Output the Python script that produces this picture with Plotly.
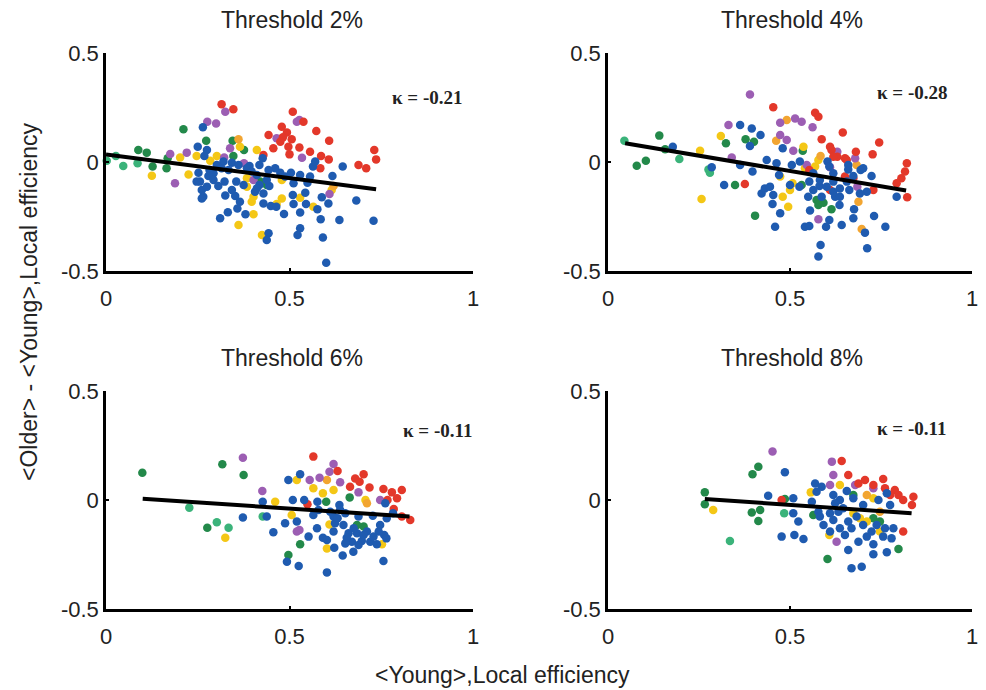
import plotly.graph_objects as go

# ---------------------------------------------------------------------------
# Data: (<Young> local efficiency, <Older> - <Young> local efficiency) per node,
# grouped by module colour, for four network-density thresholds.
# ---------------------------------------------------------------------------
THRESHOLDS = ["Threshold 2%", "Threshold 4%", "Threshold 6%", "Threshold 8%"]
KAPPAS = ["κ = -0.21", "κ = -0.28", "κ = -0.11", "κ = -0.11"]
KAPPA_X = [0.875, 0.835, 0.903, 0.835]
KAPPA_Y = [0.294, 0.317, 0.321, 0.330]

# linear fit end points for each threshold: (x0, x1), (y0, y1)
FIT_X = [(0.0, 0.736), (0.047, 0.819), (0.100, 0.827), (0.266, 0.834)]
FIT_Y = [(0.034, -0.125), (0.086, -0.131), (0.006, -0.076), (0.005, -0.061)]

X_TICKS = [0, 0.5, 1]
X_TICK_TEXT = ["0", "0.5", "1"]
Y_TICKS = [-0.5, 0, 0.5]
Y_TICK_TEXT = ["-0.5", "0", "0.5"]

# ---- Threshold 2% ----
P1_TEAL = [(0.002, 0.006), (0.047, -0.018), (0.086, -0.006), (0.027, 0.028)]
P1_GREEN = [(0.088, 0.055), (0.111, 0.043), (0.127, -0.021), (0.165, -0.029),
            (0.211, 0.150), (0.273, 0.098), (0.345, 0.098), (0.347, 0.028),
            (0.376, 0.055), (0.438, -0.106), (0.168, 0.017), (0.420, -0.090)]
P1_YELLOW = [(0.125, -0.063), (0.225, -0.057), (0.202, 0.021), (0.284, 0.006),
             (0.302, 0.028), (0.365, 0.070), (0.402, -0.159), (0.397, -0.182),
             (0.402, -0.240), (0.361, -0.289), (0.425, -0.335), (0.479, -0.167),
             (0.479, -0.083), (0.615, -0.128), (0.529, -0.164), (0.565, -0.205),
             (0.465, -0.193), (0.411, 0.055), (0.384, -0.075), (0.247, 0.028),
             (0.384, -0.113)]
P1_ORANGE = [(0.361, 0.104), (0.620, -0.110)]
P1_PURPLE = [(0.325, 0.231), (0.276, 0.185), (0.300, 0.177), (0.520, 0.185),
             (0.527, 0.193), (0.465, 0.109), (0.534, 0.020), (0.220, 0.043),
             (0.188, -0.098), (0.175, 0.037), (0.376, -0.006), (0.402, -0.083),
             (0.609, -0.147), (0.338, 0.063), (0.322, 0.021)]
P1_RED = [(0.315, 0.265), (0.347, 0.242), (0.509, 0.231), (0.479, 0.162),
          (0.443, 0.124), (0.493, 0.135), (0.506, 0.104), (0.482, 0.113),
          (0.573, 0.142), (0.608, 0.098), (0.456, 0.063), (0.429, 0.032),
          (0.497, 0.070), (0.527, 0.066), (0.500, 0.035), (0.556, 0.047),
          (0.586, 0.028), (0.607, 0.012), (0.584, -0.029), (0.731, 0.055),
          (0.736, 0.012), (0.688, -0.014), (0.709, -0.029), (0.538, 0.185),
          (0.475, 0.093)]
P1_BLUE = [(0.264, 0.159), (0.250, 0.070), (0.275, 0.055), (0.268, 0.028),
           (0.320, 0.002), (0.343, -0.003), (0.315, -0.029), (0.293, -0.052),
           (0.279, -0.064), (0.256, -0.090), (0.261, -0.128), (0.265, -0.159),
           (0.261, -0.167), (0.323, -0.090), (0.355, -0.090), (0.375, -0.106),
           (0.325, -0.154), (0.352, -0.156), (0.365, -0.182), (0.358, -0.213),
           (0.380, -0.240), (0.332, -0.231), (0.311, -0.258), (0.391, -0.018),
           (0.418, -0.014), (0.418, -0.106), (0.406, -0.136), (0.429, -0.144),
           (0.445, -0.110), (0.438, -0.083), (0.429, -0.190), (0.449, -0.202),
           (0.464, -0.205), (0.485, -0.239), (0.443, -0.327), (0.438, -0.358),
           (0.504, -0.049), (0.509, -0.151), (0.511, -0.193), (0.529, -0.232),
           (0.529, -0.304), (0.522, -0.335), (0.543, -0.141), (0.545, -0.193),
           (0.549, -0.095), (0.564, -0.021), (0.570, 0.002), (0.576, -0.217),
           (0.585, -0.263), (0.591, -0.346), (0.588, -0.162), (0.606, -0.190),
           (0.617, -0.064), (0.636, -0.266), (0.645, -0.021), (0.682, -0.177),
           (0.729, -0.269), (0.600, -0.462), (0.247, -0.090), (0.293, -0.083),
           (0.306, -0.110), (0.384, -0.029), (0.397, -0.044), (0.461, -0.029),
           (0.475, -0.049), (0.427, 0.017), (0.361, -0.014), (0.511, -0.098),
           (0.252, -0.049), (0.282, -0.037), (0.302, -0.014), (0.334, -0.037),
           (0.411, -0.060), (0.443, -0.037), (0.488, -0.067), (0.529, -0.060),
           (0.556, -0.067), (0.411, -0.121), (0.275, -0.113), (0.343, -0.128)]

# ---- Threshold 4% ----
P2_TEAL = [(0.045, 0.098), (0.196, 0.014), (0.276, -0.034), (0.280, -0.049)]
P2_GREEN = [(0.141, 0.121), (0.079, -0.017), (0.104, 0.006), (0.157, 0.058),
            (0.324, 0.086), (0.349, -0.106), (0.378, 0.104), (0.401, 0.093),
            (0.404, -0.246), (0.535, 0.052), (0.532, -0.106), (0.573, -0.174),
            (0.578, -0.197), (0.592, -0.187), (0.614, -0.217)]
P2_YELLOW = [(0.310, 0.119), (0.253, 0.052), (0.257, -0.170), (0.495, -0.205),
             (0.507, -0.098), (0.537, 0.070), (0.569, -0.021), (0.578, 0.009),
             (0.480, -0.159), (0.473, -0.067), (0.541, -0.029), (0.500, -0.128)]
P2_ORANGE = [(0.491, 0.193), (0.462, 0.098), (0.584, 0.028), (0.697, -0.307),
             (0.688, -0.182), (0.683, -0.014)]
P2_PURPLE = [(0.390, 0.310), (0.331, 0.170), (0.473, 0.180), (0.514, 0.200),
             (0.532, 0.185), (0.562, 0.159), (0.473, 0.124), (0.491, 0.101),
             (0.509, 0.052), (0.340, 0.021), (0.630, 0.047), (0.679, 0.017),
             (0.610, -0.024), (0.685, -0.113), (0.578, -0.263), (0.546, -0.014)]
P2_RED = [(0.454, 0.251), (0.569, 0.226), (0.578, 0.208), (0.645, 0.135),
          (0.587, 0.104), (0.610, 0.070), (0.614, 0.055), (0.630, 0.024),
          (0.651, 0.017), (0.681, 0.047), (0.745, 0.089), (0.727, 0.035),
          (0.821, -0.006), (0.816, -0.044), (0.806, -0.075), (0.793, -0.098),
          (0.822, -0.162), (0.376, -0.101), (0.651, -0.067), (0.729, -0.128),
          (0.553, -0.037), (0.610, -0.128), (0.619, 0.024), (0.656, 0.009),
          (0.674, -0.075)]
P2_BLUE = [(0.178, 0.070), (0.285, -0.024), (0.319, -0.106), (0.363, 0.170),
           (0.395, 0.154), (0.419, 0.124), (0.390, 0.073), (0.363, -0.014),
           (0.397, -0.044), (0.436, 0.009), (0.463, -0.006), (0.480, 0.063),
           (0.505, -0.014), (0.527, 0.002), (0.470, -0.060), (0.422, -0.144),
           (0.431, -0.121), (0.445, -0.113), (0.454, -0.151), (0.452, -0.193),
           (0.473, -0.235), (0.459, -0.297), (0.526, -0.113), (0.553, -0.090),
           (0.550, -0.159), (0.555, -0.223), (0.541, -0.297), (0.553, -0.294),
           (0.581, -0.110), (0.601, -0.113), (0.603, 0.002), (0.608, -0.021),
           (0.619, -0.136), (0.624, -0.159), (0.636, -0.197), (0.608, -0.266),
           (0.599, -0.297), (0.642, -0.289), (0.637, -0.121), (0.660, -0.034),
           (0.674, -0.064), (0.663, -0.128), (0.676, -0.217), (0.674, -0.258),
           (0.706, -0.324), (0.712, -0.396), (0.731, -0.248), (0.762, -0.297),
           (0.711, -0.136), (0.694, -0.037), (0.724, -0.064), (0.793, -0.159),
           (0.584, -0.381), (0.578, -0.434), (0.587, -0.159), (0.656, -0.090),
           (0.500, -0.106), (0.564, -0.052), (0.619, -0.052), (0.701, -0.029),
           (0.564, -0.128), (0.619, -0.090), (0.637, -0.159), (0.582, -0.083),
           (0.660, -0.014), (0.692, -0.144)]

# ---- Threshold 6% ----
P3_TEAL = [(0.227, -0.035), (0.302, -0.102), (0.334, -0.127), (0.427, -0.076)]
P3_GREEN = [(0.099, 0.125), (0.317, 0.164), (0.375, 0.115), (0.276, -0.127),
            (0.529, -0.203), (0.497, -0.252), (0.664, 0.012), (0.702, -0.122),
            (0.684, -0.115), (0.600, -0.008)]
P3_YELLOW = [(0.325, -0.173), (0.461, -0.008), (0.520, 0.092), (0.565, 0.054),
             (0.591, 0.031), (0.620, 0.046), (0.506, -0.069), (0.602, -0.222),
             (0.707, 0.000), (0.752, -0.203), (0.609, -0.112)]
P3_ORANGE = [(0.602, 0.092), (0.711, -0.015)]
P3_PURPLE = [(0.373, 0.194), (0.426, 0.041), (0.555, 0.092), (0.582, 0.102),
             (0.609, 0.130), (0.620, 0.165), (0.638, 0.081), (0.688, 0.035),
             (0.520, -0.145), (0.527, -0.138), (0.747, 0.000)]
P3_RED = [(0.565, 0.199), (0.631, 0.133), (0.702, 0.118), (0.679, 0.099),
          (0.665, 0.061), (0.691, 0.084), (0.718, 0.057), (0.756, 0.050),
          (0.779, 0.035), (0.806, 0.046), (0.767, 0.000), (0.784, -0.041),
          (0.806, -0.076), (0.829, -0.092), (0.549, -0.020), (0.793, 0.008)]
P3_BLUE = [(0.373, -0.080), (0.427, -0.008), (0.456, -0.148), (0.438, -0.076),
           (0.497, 0.092), (0.529, 0.118), (0.509, 0.000), (0.488, -0.107),
           (0.520, -0.099), (0.552, -0.168), (0.540, 0.000), (0.576, -0.008),
           (0.575, -0.130), (0.591, -0.173), (0.602, -0.183), (0.622, -0.219),
           (0.645, -0.255), (0.493, -0.283), (0.525, -0.303), (0.602, -0.332),
           (0.636, -0.023), (0.624, -0.107), (0.647, -0.115), (0.661, -0.153),
           (0.670, -0.191), (0.674, -0.237), (0.697, -0.188), (0.720, -0.191),
           (0.738, -0.203), (0.758, -0.161), (0.764, -0.176), (0.756, -0.280),
           (0.727, -0.072), (0.747, -0.115), (0.761, -0.015), (0.782, -0.061),
           (0.652, -0.061), (0.688, -0.076), (0.620, -0.076), (0.656, -0.173),
           (0.684, -0.153), (0.711, -0.145), (0.675, -0.130), (0.702, -0.161),
           (0.729, -0.168), (0.743, -0.145), (0.688, -0.206), (0.652, -0.199),
           (0.620, -0.145), (0.631, -0.084), (0.579, -0.046), (0.611, -0.054),
           (0.638, -0.046), (0.565, -0.069), (0.765, -0.084)]

# ---- Threshold 8% ----
P4_TEAL = [(0.335, -0.188), (0.484, -0.061)]
P4_GREEN = [(0.266, 0.035), (0.266, -0.020), (0.397, 0.118), (0.413, 0.153),
            (0.395, -0.057), (0.418, -0.046), (0.413, -0.096), (0.486, 0.005),
            (0.564, -0.069), (0.603, -0.271), (0.674, 0.023), (0.798, -0.225),
            (0.747, -0.099), (0.729, -0.084)]
P4_YELLOW = [(0.289, -0.046), (0.557, 0.035), (0.608, -0.161), (0.637, 0.069),
             (0.674, -0.061), (0.711, -0.099), (0.729, 0.008), (0.747, -0.145),
             (0.692, -0.084)]
P4_ORANGE = [(0.711, 0.023), (0.747, -0.054)]
P4_PURPLE = [(0.452, 0.222), (0.615, 0.176), (0.619, 0.115), (0.610, 0.069),
             (0.679, 0.069), (0.628, -0.191), (0.729, 0.054)]
P4_RED = [(0.642, 0.179), (0.660, 0.115), (0.688, 0.076), (0.706, 0.092),
          (0.756, 0.096), (0.729, 0.069), (0.788, 0.046), (0.798, 0.023),
          (0.811, 0.000), (0.839, 0.015), (0.835, -0.023), (0.811, -0.145),
          (0.477, 0.000), (0.761, 0.054), (0.775, 0.023)]
P4_BLUE = [(0.486, 0.127), (0.440, 0.020), (0.509, 0.008), (0.509, -0.061),
           (0.523, -0.099), (0.477, -0.168), (0.512, -0.161), (0.537, -0.179),
           (0.560, -0.008), (0.569, 0.076), (0.587, 0.061), (0.578, -0.054),
           (0.592, -0.115), (0.619, 0.023), (0.637, 0.000), (0.633, -0.054),
           (0.619, -0.092), (0.637, -0.130), (0.656, 0.041), (0.660, -0.099),
           (0.651, -0.161), (0.660, -0.229), (0.669, -0.313), (0.697, -0.306),
           (0.688, -0.191), (0.711, -0.168), (0.729, -0.203), (0.729, -0.249),
           (0.766, -0.240), (0.756, -0.168), (0.779, -0.176), (0.761, -0.130),
           (0.784, -0.130), (0.766, 0.031), (0.775, -0.023), (0.743, 0.000),
           (0.701, -0.023), (0.683, -0.076), (0.610, -0.061), (0.674, 0.008),
           (0.624, -0.015), (0.646, -0.038), (0.669, -0.130), (0.701, -0.115),
           (0.724, -0.145), (0.738, -0.115), (0.610, -0.145), (0.582, -0.076),
           (0.573, 0.038)]

PANELS = [
    [P1_TEAL, P1_GREEN, P1_YELLOW, P1_ORANGE, P1_PURPLE, P1_RED, P1_BLUE],
    [P2_TEAL, P2_GREEN, P2_YELLOW, P2_ORANGE, P2_PURPLE, P2_RED, P2_BLUE],
    [P3_TEAL, P3_GREEN, P3_YELLOW, P3_ORANGE, P3_PURPLE, P3_RED, P3_BLUE],
    [P4_TEAL, P4_GREEN, P4_YELLOW, P4_ORANGE, P4_PURPLE, P4_RED, P4_BLUE],
]
GROUP_COLORS = ["#3bb37a", "#23894a", "#f4c716", "#f2a531", "#9c5eb3",
                "#e3382a", "#1f5bb0"]

# ---------------------------------------------------------------------------
# Layout geometry (paper fractions of a 986 x 690 canvas)
# ---------------------------------------------------------------------------
W, H = 986, 690
COL_PX = [(106, 473), (608, 972)]
ROW_PX = [(53, 271), (391, 609)]
SANS = "Liberation Sans, Arial, sans-serif"
SERIF = "Liberation Serif, Times New Roman, serif"

fig = go.Figure()

for i, groups in enumerate(PANELS):
    r, c = divmod(i, 2)
    ax = "" if i == 0 else str(i + 1)
    xref, yref = "x" + ax, "y" + ax
    for pts, col in zip(groups, GROUP_COLORS):
        fig.add_trace(go.Scatter(
            x=[p[0] for p in pts], y=[p[1] for p in pts],
            mode="markers", xaxis=xref, yaxis=yref, cliponaxis=False,
            marker=dict(size=8.5, color=col, line=dict(width=0)),
            showlegend=False, hoverinfo="skip"))
    fig.add_trace(go.Scatter(
        x=list(FIT_X[i]), y=list(FIT_Y[i]), mode="lines",
        xaxis=xref, yaxis=yref, cliponaxis=False,
        line=dict(color="black", width=4), showlegend=False,
        hoverinfo="skip"))

    x0, x1 = COL_PX[c]
    y0, y1 = ROW_PX[r]
    axis_common = dict(
        showline=True, linecolor="black", linewidth=2.5, mirror=False,
        showgrid=False, zeroline=False, ticks="inside", ticklen=3,
        tickwidth=2, tickcolor="black", automargin=False,
        tickfont=dict(family=SANS, size=22, color="#222"))
    fig.layout["xaxis" + ax] = dict(
        axis_common, domain=[x0 / W, x1 / W], range=[0, 1],
        anchor=yref, tickvals=X_TICKS, ticktext=X_TICK_TEXT,
        ticklabelstandoff=6)
    fig.layout["yaxis" + ax] = dict(
        axis_common, domain=[1 - y1 / H, 1 - y0 / H], range=[-0.5, 0.5],
        anchor=xref, tickvals=Y_TICKS, ticktext=Y_TICK_TEXT)

    # panel title
    fig.add_annotation(
        text=THRESHOLDS[i], xref="paper", yref="paper",
        x=((x0 + x1) / 2 + 2) / W, y=1 - (y0 - 33) / H,
        showarrow=False, xanchor="center", yanchor="middle",
        font=dict(family=SANS, size=23, color="#222"))
    # correlation label
    fig.add_annotation(
        text="<b>" + KAPPAS[i] + "</b>", xref=xref, yref=yref,
        x=KAPPA_X[i], y=KAPPA_Y[i],
        showarrow=False, xanchor="center", yanchor="middle",
        font=dict(family=SERIF, size=19, color="#222"))

# shared axis titles
fig.add_annotation(
    text="<Older> - <Young>,Local efficiency", xref="paper", yref="paper",
    x=29 / W, y=1 - 302 / H, textangle=-90, showarrow=False,
    xanchor="center", yanchor="middle",
    font=dict(family=SANS, size=23, color="#222"))
fig.add_annotation(
    text="<Young>,Local efficiency", xref="paper", yref="paper",
    x=502 / W, y=1 - 675 / H, showarrow=False,
    xanchor="center", yanchor="middle",
    font=dict(family=SANS, size=23, color="#222"))

fig.update_layout(
    width=W, height=H, margin=dict(l=0, r=0, t=0, b=0, autoexpand=False),
    paper_bgcolor="white", plot_bgcolor="white")

fig.write_html("out.html")
